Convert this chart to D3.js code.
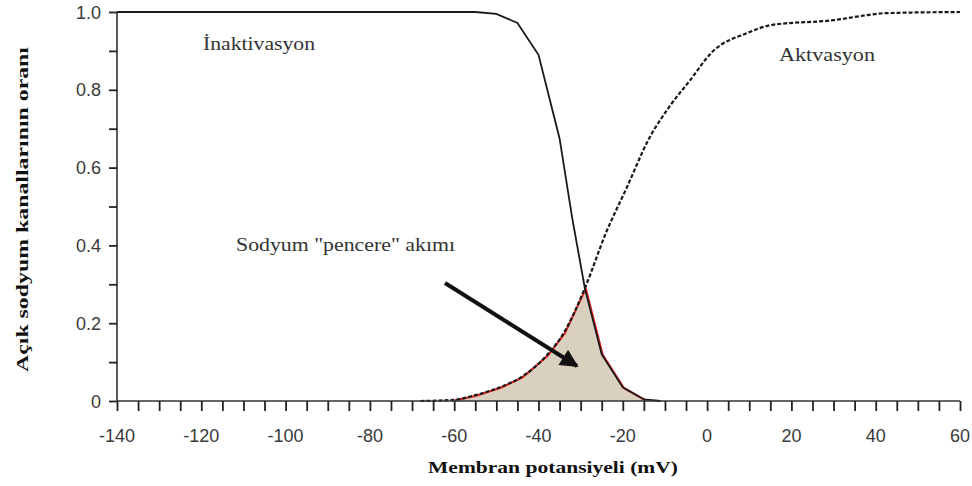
<!DOCTYPE html>
<html><head><meta charset="utf-8">
<script src="https://cdn.jsdelivr.net/npm/d3@7"></script>
<style>body{margin:0;background:#fff}svg{display:block}</style>
</head><body>
<svg id="c" width="972" height="486"></svg>
<script>
// Data
const inactMV  = [-140, -55, -50, -45, -40, -35, -32, -29, -25, -20, -15, -11];
const inactVal = [1.0, 1.0, 0.995, 0.972, 0.89, 0.675, 0.47, 0.29, 0.12, 0.035, 0.004, 0];
const actMV  = [-68, -60, -55, -49, -44, -38, -34, -29, -24, -19, -14, -9, -4, 1, 9.5, 15.5, 30, 38, 42, 60];
const actVal = [0, 0.003, 0.015, 0.036, 0.062, 0.118, 0.175, 0.29, 0.432, 0.55, 0.67, 0.756, 0.825, 0.895, 0.946, 0.967, 0.979, 0.992, 0.997, 1.0];
const crossMV = -29;
const xTicksMajor = [-140, -120, -100, -80, -60, -40, -20, 0, 20, 40, 60];
const yTicksMajor = [0, 0.2, 0.4, 0.6, 0.8, 1.0];
const yTickLabels = ["0", "0.2", "0.4", "0.6", "0.8", "1.0"];
const labels = {inact: "İnaktivasyon", act: "Aktvasyon", window: "Sodyum \"pencere\" akımı",
  xTitle: "Membran potansiyeli (mV)", yTitle: "Açık sodyum kanallarının oranı"};

const svg = d3.select("#c");
const x = d3.scaleLinear().domain([-140, 60]).range([117, 960]);
const y = d3.scaleLinear().domain([0, 1]).range([401, 12]);

const inact = inactMV.map((m, i) => [m, inactVal[i]]);
const act = actMV.map((m, i) => [m, actVal[i]]);

// window area: activation up to crossing, inactivation after
const win = act.filter(d => d[0] >= -60 && d[0] <= crossMV)
  .concat(inact.filter(d => d[0] > crossMV && d[0] <= -15))
  .concat([[-15, 0]]);
const area = d3.area().x(d => x(d[0])).y0(y(0)).y1(d => y(d[1]));
const line = d3.line().x(d => x(d[0])).y(d => y(d[1]));
const smooth = d3.line().x(d => x(d[0])).y(d => y(d[1])).curve(d3.curveMonotoneX);

svg.append("path").datum(win).attr("d", area).attr("fill", "#d9d0bf");
svg.append("path").datum(win).attr("d", line).attr("fill", "none")
  .attr("stroke", "#e8231f").attr("stroke-width", 2).attr("transform", "translate(1,0.5)");

// curves
svg.append("path").datum(inact).attr("d", line).attr("fill", "none")
  .attr("stroke", "#1a1a1a").attr("stroke-width", 1.8);
svg.append("path").datum(act).attr("d", smooth).attr("fill", "none")
  .attr("stroke", "#1a1a1a").attr("stroke-width", 2.2).attr("stroke-dasharray", "4,2");

// axes
const xAxis = d3.axisBottom(x).tickValues(d3.range(-140, 61, 5)).tickSize(10).tickFormat("");
const gx = svg.append("g").attr("transform", `translate(0,${y(0)})`).call(xAxis);
gx.select(".domain").attr("d", `M${x(-140)},0H${x(60)}`).attr("stroke", "#333").attr("stroke-width", 1.6);
gx.selectAll(".tick line").attr("stroke", "#222").attr("stroke-width", 1.8);
svg.append("g").selectAll("text").data(xTicksMajor).join("text")
  .attr("x", d => x(d)).attr("y", 442).attr("text-anchor", "middle")
  .attr("font-family", "Liberation Sans, Arial, sans-serif").attr("font-size", 18).attr("fill", "#3a3a3a")
  .text(d => d);

const yAxis = d3.axisLeft(y).tickValues(d3.range(0, 11).map(i => i / 10)).tickSize(8).tickFormat("");
const gy = svg.append("g").attr("transform", `translate(${x(-140)},0)`).call(yAxis);
gy.select(".domain").attr("d", `M0,${y(1)}V${y(0)}`).attr("stroke", "#333").attr("stroke-width", 1.6);
gy.selectAll(".tick line").attr("stroke", "#222").attr("stroke-width", 1.8);
svg.append("g").selectAll("text").data(yTicksMajor).join("text")
  .attr("x", 101).attr("y", d => y(d) + 6.5).attr("text-anchor", "end")
  .attr("font-family", "Liberation Sans, Arial, sans-serif").attr("font-size", 18).attr("fill", "#3a3a3a")
  .text((d, i) => yTickLabels[i]);

// annotations
const serif = "Liberation Serif, Times New Roman, serif";
function txt(t, xx, yy, w, size, opts = {}) {
  const e = svg.append("text").attr("x", xx).attr("y", yy).attr("font-family", serif)
    .attr("font-size", size).attr("fill", opts.fill || "#333").text(t);
  if (opts.bold) e.attr("font-weight", "bold");
  if (w) e.attr("textLength", w).attr("lengthAdjust", "spacingAndGlyphs");
  if (opts.rotate) e.attr("transform", `rotate(-90,${xx},${yy})`);
  return e;
}
txt(labels.inact, 203, 50, 112, 18);
txt(labels.act, 779, 61, 96, 18);
txt(labels.window, 236, 251, 219, 18);
txt(labels.xTitle, 428, 473, 250, 17, {bold: true, fill: "#111"});
txt(labels.yTitle, 28, 372, 325, 17, {bold: true, fill: "#111", rotate: true});

// arrow
const defs = svg.append("defs");
defs.append("marker").attr("id", "ah").attr("viewBox", "0 0 10 10").attr("refX", 9).attr("refY", 5)
  .attr("markerWidth", 5.5).attr("markerHeight", 4.5).attr("orient", "auto").attr("markerUnits", "strokeWidth")
  .append("path").attr("d", "M0,0L10,5L0,10z").attr("fill", "#111");
svg.append("line").attr("x1", 445).attr("y1", 283).attr("x2", 577).attr("y2", 366)
  .attr("stroke", "#111").attr("stroke-width", 4).attr("marker-end", "url(#ah)");
</script>
</body></html>
